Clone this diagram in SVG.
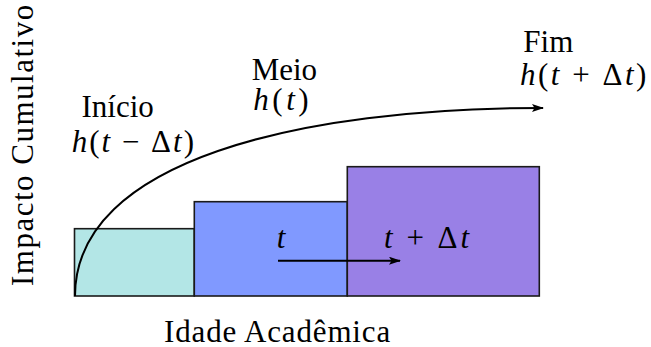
<svg xmlns="http://www.w3.org/2000/svg" width="651" height="347" viewBox="0 0 651 347">
<style>
.it{font-style:italic}
.bar{stroke:#1a1a1a;stroke-width:1.6}
.con{fill:none;stroke:#000;stroke-width:2}
</style>
<defs>
<marker id="ah" viewBox="0 0 12 8" refX="11" refY="4" markerWidth="12" markerHeight="8" markerUnits="userSpaceOnUse" orient="auto">
<path d="M0,0 L12,4 L0,8 L2.5,4 Z" fill="#000"/>
</marker>
</defs>
<g id="bar1"><rect class="bar" x="74.5" y="228.7" width="119.8" height="67.3" fill="#b3e6e6"/></g>
<g id="bar2"><rect class="bar" x="194.3" y="201.7" width="153" height="94.3" fill="#8099ff"/></g>
<g id="bar3"><rect class="bar" x="347.3" y="166.7" width="192" height="129.3" fill="#9980e6"/></g>
<g id="connectors">
<path class="con" d="M75,296 C75,160 300,108 543,108" marker-end="url(#ah)"/>
<path class="con" d="M278,260.7 L400,260.7" marker-end="url(#ah)"/>
</g>
<g id="ylabel"><text style="font-family:'Liberation Serif',serif;font-size:31px;letter-spacing:1.5px" transform="translate(33,286) rotate(-90)">Impacto Cumulativo</text></g>
<g id="xlabel"><text style="font-family:'Liberation Serif',serif;font-size:31px;letter-spacing:0.85px" x="164" y="342">Idade Acadêmica</text></g>
<g id="inicio">
<text style="font-family:'Liberation Serif',serif;font-size:31px" x="81.5" y="117.3">Início</text>
<text style="font-family:'Liberation Serif',serif;font-size:31px;letter-spacing:2px" x="71.7" y="151.7"><tspan class="it">h</tspan>(<tspan class="it">t</tspan> − Δ<tspan class="it">t</tspan>)</text>
</g>
<g id="meio">
<text style="font-family:'Liberation Serif',serif;font-size:31px" x="251.7" y="80">Meio</text>
<text style="font-family:'Liberation Serif',serif;font-size:31px;letter-spacing:3.5px" x="253.3" y="110"><tspan class="it">h</tspan>(<tspan class="it">t</tspan>)</text>
</g>
<g id="fim">
<text style="font-family:'Liberation Serif',serif;font-size:31px" x="523.3" y="51.7">Fim</text>
<text style="font-family:'Liberation Serif',serif;font-size:31px;letter-spacing:2.5px" x="520" y="85"><tspan class="it">h</tspan>(<tspan class="it">t</tspan> + Δ<tspan class="it">t</tspan>)</text>
</g>
<g id="t"><text class="it" style="font-family:'Liberation Serif',serif;font-size:31px" x="276.7" y="248.3">t</text></g>
<g id="tdt"><text style="font-family:'Liberation Serif',serif;font-size:31px;letter-spacing:3px" x="384" y="248.3"><tspan class="it">t</tspan> + Δ<tspan class="it">t</tspan></text></g>
</svg>
